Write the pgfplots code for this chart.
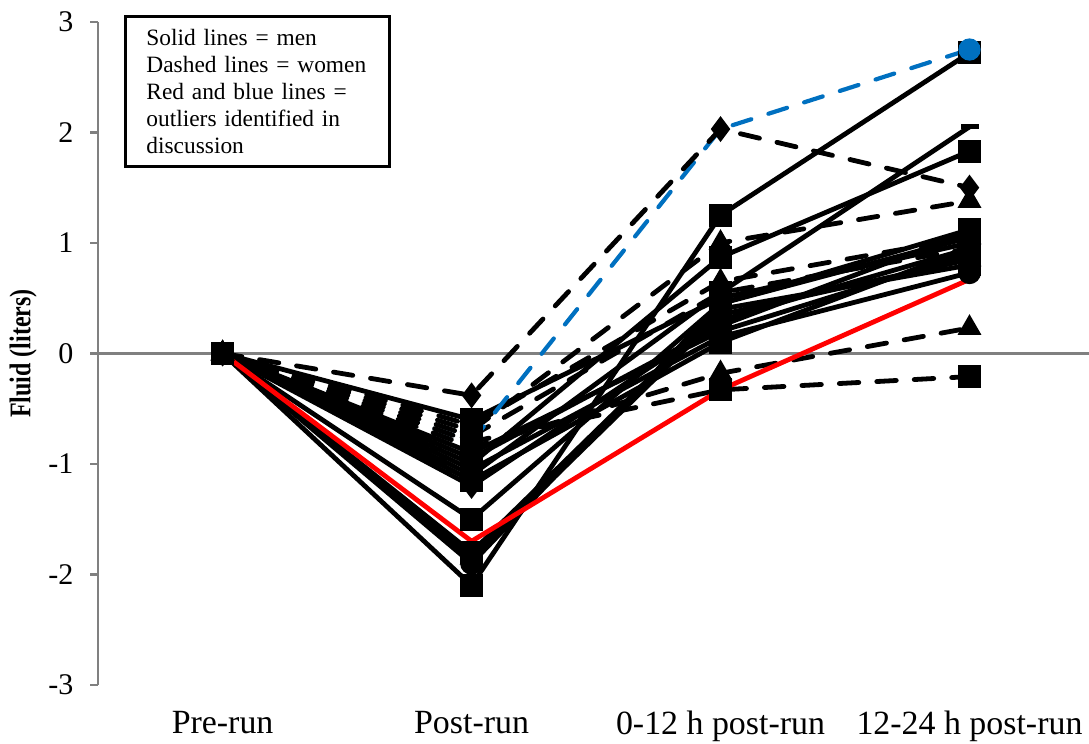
\documentclass[border=0pt]{standalone}
\usepackage{fontspec}
\setmainfont{Liberation Serif}
\usepackage{pgfplots}
\pgfplotsset{compat=1.18}

\definecolor{exred}{RGB}{255,0,0}
\definecolor{exblue}{RGB}{0,112,192}

\pgfplotsset{
  men/.style={black, line width=1.6pt, solid, mark size=3pt, mark options={solid, fill=black}},
  women/.style={black, line width=1.6pt, dash pattern=on 6.5pt off 6pt, line cap=round, mark size=3pt, mark options={solid, fill=black}},
  outblue/.style={exblue, line width=1.4pt, dash pattern=on 6.5pt off 6pt, line cap=round, mark size=3pt, mark options={solid, fill=exblue}},
}

\begin{document}
\begin{tikzpicture}
\begin{axis}[
  scale only axis, width=330.3pt, height=221pt,
  xmin=-0.5, xmax=3.48, ymin=-3, ymax=3,
  axis y line*=left, axis x line*=bottom,
  x axis line style={draw=none},
  y axis line style={gray, line width=0.8pt},
  xtick={0,1,2,3},
  xticklabels={Pre-run, Post-run, 0-12 h post-run, 12-24 h post-run},
  x tick style={draw=none},
  xticklabel style={font=\fontsize{11.3}{13}\selectfont, yshift=-2.5pt},
  ytick={-3,-2,-1,0,1,2,3},
  yticklabels={-3,-2,-1,0,1,2,3},
  y tick style={gray, line width=0.8pt},
  tick align=outside, major tick length=2.7pt,
  yticklabel style={font=\fontsize{10}{12}\selectfont, xshift=-2pt},
  ylabel={Fluid (liters)},
  ylabel style={font=\fontsize{10}{12}\selectfont\bfseries, at={(axis description cs:-0.0757,0.5)}, anchor=center, xscale=0.8},
  clip=false,
]
\coordinate (bl) at (rel axis cs:0,0);
\coordinate (tr) at (rel axis cs:1,1);

\addplot[gray, line width=0.8pt, forget plot] coordinates {(-0.5,0) (3.48,0)};

% blue outlier, first segment hidden under the others
\addplot[outblue, mark=none] coordinates {(0,0) (1,-0.8)};

% men
\addplot[men, mark=square*] coordinates {(0,0) (1,-2.1) (2,1.25) (3,2.72)};
\addplot[men, mark=*] coordinates {(0,0) (1,-1.9) (2,0.45) (3,1.05)};
\addplot[men, mark=square*] coordinates {(0,0) (1,-1.5) (2,0.45) (3,1.12)};
\addplot[men, mark=diamond*] coordinates {(0,0) (1,-1.2) (2,0.3) (3,0.95)};
\addplot[men, mark=-] coordinates {(0,0) (1,-1.1) (2,0.55) (3,2.05)};
\addplot[men, mark=square*] coordinates {(0,0) (1,-1.0) (2,0.87) (3,1.83)};
\addplot[men, mark=square*] coordinates {(0,0) (1,-0.6) (2,0.5) (3,1.0)};
\addplot[men, mark=square*] coordinates {(0,0) (1,-0.9) (2,0.2) (3,0.9)};
\addplot[men, mark=*] coordinates {(0,0) (1,-1.05) (2,0.15) (3,0.73)};
\addplot[men, mark=triangle*] coordinates {(0,0) (1,-1.85) (2,0.35) (3,0.85)};
\addplot[men, mark=square*] coordinates {(0,0) (1,-1.15) (2,0.1) (3,0.95)};
\addplot[men, mark=square*] coordinates {(0,0) (1,-0.95) (2,0.25) (3,1.1)};
\addplot[men, mark=square*] coordinates {(0,0) (1,-1.8) (2,0.4) (3,0.8)};

% women
\addplot[women, mark=triangle*] coordinates {(0,0) (1,-0.7) (2,1.0) (3,1.38)};
\addplot[women, mark=triangle*] coordinates {(0,0) (1,-0.65) (2,0.65) (3,1.05)};
\addplot[women, mark=triangle*] coordinates {(0,0) (1,-0.85) (2,-0.18) (3,0.23)};
\addplot[women, mark=square*] coordinates {(0,0) (1,-0.8) (2,-0.33) (3,-0.21)};
\addplot[women, mark=square*] coordinates {(0,0) (1,-0.75) (2,0.55) (3,0.95)};

% outliers
\addplot[exred, line width=1.6pt, mark=none] coordinates {(0,0) (1,-1.7) (2,-0.33) (3,0.67)};
\addplot[outblue, mark=*, mark indices={3}] coordinates {(1,-0.8) (2,2.03) (3,2.75)};

\addplot[women, mark=diamond*] coordinates {(0,0) (1,-0.38) (2,2.03) (3,1.5)};

\node[draw, line width=0.9pt, anchor=north west, inner xsep=7pt, inner ysep=4pt,
  text width=74pt, align=left, minimum height=50pt, fill=white,
  font=\fontsize{7.8}{9}\selectfont]
  at (axis description cs:0.0262,1.0106)
  {Solid lines = men\\Dashed lines = women\\Red and blue lines =\\outliers identified in\\discussion};
\end{axis}
\pgfresetboundingbox
\path ([shift={(-32.7pt,-19.7pt)}]bl) rectangle ([shift={(0pt,7.3pt)}]tr);
\end{tikzpicture}
\end{document}
